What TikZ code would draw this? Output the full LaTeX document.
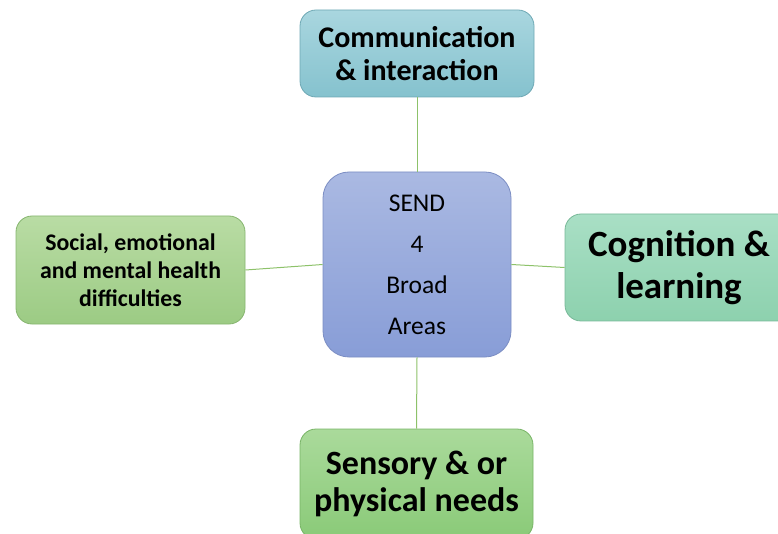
\documentclass[tikz,border=0pt]{standalone}
\usepackage{fontspec}
\setmainfont{Carlito}
\definecolor{hubtop}{HTML}{AAB9E2}
\definecolor{hubbot}{HTML}{889DD7}
\definecolor{hubline}{HTML}{7B8DC3}
\definecolor{commtop}{HTML}{A9D6DF}
\definecolor{commbot}{HTML}{85C2CE}
\definecolor{commline}{HTML}{6EA8B4}
\definecolor{socitop}{HTML}{B9DCA4}
\definecolor{socibot}{HTML}{9CCB84}
\definecolor{sociline}{HTML}{86B56F}
\definecolor{cogntop}{HTML}{A9DFC5}
\definecolor{cognbot}{HTML}{8DD1AE}
\definecolor{cognline}{HTML}{78B898}
\definecolor{senstop}{HTML}{AADA9B}
\definecolor{sensbot}{HTML}{8ACA78}
\definecolor{sensline}{HTML}{78B466}
\definecolor{linkgreen}{HTML}{8DC26A}
\begin{document}
\begin{tikzpicture}[x=1pt,y=1pt,
    area/.style={rounded corners=16pt, align=center, inner sep=0pt, line width=0.8pt},
    link/.style={draw=linkgreen, line width=1pt}]
    \useasboundingbox (0,0) rectangle (778,533);

    % centre
    \node [area, rounded corners=26pt, draw=hubline, top color=hubtop, bottom color=hubbot,
           minimum width=188pt, minimum height=185pt,
           font=\fontsize{25.5}{41}\selectfont] (hub) at (417,268.5) {SEND\\4\\Broad\\Areas};

    % four areas
    \node [area, draw=commline, top color=commtop, bottom color=commbot,
           minimum width=234pt, minimum height=87pt,
           font=\bfseries\fontsize{30}{33}\selectfont] (comm) at (417,479.5) {Communication\\\& interaction};
    \node [area, draw=sociline, top color=socitop, bottom color=socibot,
           minimum width=229pt, minimum height=108pt,
           font=\bfseries\fontsize{23.8}{28}\selectfont] (soci) at (130.5,263) {Social, emotional\\and mental health\\difficulties};
    \node [area, draw=cognline, top color=cogntop, bottom color=cognbot,
           minimum width=228pt, minimum height=107pt,
           font=\bfseries\fontsize{37}{42}\selectfont] (cogn) at (679,265.5) {Cognition \&\\learning};
    \node [area, draw=sensline, top color=senstop, bottom color=sensbot,
           minimum width=233pt, minimum height=110pt,
           font=\bfseries\fontsize{34}{37}\selectfont] (sens) at (416.5,49) {Sensory \& or\\physical needs};

    % links
    \draw [link] (comm.south) -- (hub.north);
    \draw [link] (hub.south) -- (sens.north);
    \draw [link] (soci.east) -- (hub.west);
    \draw [link] (hub.east) -- (cogn.west);
\end{tikzpicture}
\end{document}
